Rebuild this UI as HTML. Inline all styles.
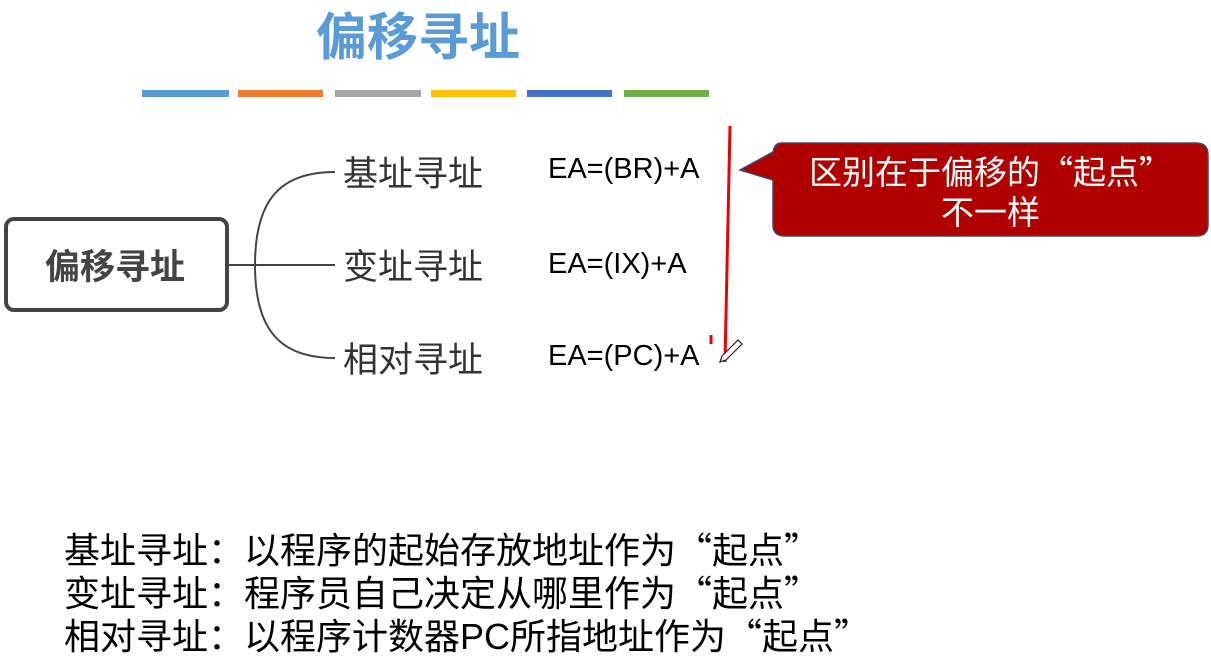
<!DOCTYPE html>
<html><head><meta charset="utf-8"><style>
body{margin:0;width:1211px;height:663px;background:#fff;position:relative;overflow:hidden;font-family:"Noto Sans CJK SC",sans-serif}
.a{position:absolute;white-space:nowrap}
.bar{position:absolute;top:90px;height:7px}
.br{font-size:35px;color:#333;left:343px;line-height:44px}
.f{font-size:29px;color:#000;left:548px;font-family:"Liberation Sans",sans-serif}
.bt{font-size:36px;color:#000;left:64px;line-height:43px}
</style></head><body>
<div class="a" style="left:316px;top:0px;font-size:51px;color:#5b9bd5;font-weight:bold;line-height:66px">偏移寻址</div>
<div class="bar" style="left:142px;width:87px;background:#5b9bd5"></div>
<div class="bar" style="left:238px;width:85px;background:#ed7d31"></div>
<div class="bar" style="left:335px;width:86px;background:#a5a5a5"></div>
<div class="bar" style="left:431px;width:85px;background:#ffc000"></div>
<div class="bar" style="left:527px;width:85px;background:#4472c4"></div>
<div class="bar" style="left:624px;width:85px;background:#70ad47"></div>
<svg class="a" style="left:0;top:0" width="1211" height="663">
<path d="M228 265 H335 M255 265 C255 200 280 172 335 172 M255 265 C255 330 280 358 335 358" stroke="#444" stroke-width="2" fill="none"/>
<rect x="6" y="219" width="221" height="91" rx="8" fill="#fff" stroke="#444" stroke-width="4"/>
<path d="M730 126 L725 362" stroke="#e00" stroke-width="3" fill="none"/>
<path d="M711 335 L711 344" stroke="#e00" stroke-width="3"/>
<path d="M782 143 H1196 Q1208 143 1208 155 V225 Q1208 236 1196 236 H785 Q773 236 773 225 V180 L740 170 L773 152 V155 Q773 143 782 143Z" fill="#b00000" stroke="#3a4a6a" stroke-width="1.5"/>
<path d="M722 356 L738 340 L742 344 L726 360 L720 362Z" fill="#fff" stroke="#222" stroke-width="1.2"/>
</svg>
<div class="a" style="left:45px;top:243px;font-size:35px;font-weight:bold;color:#444;line-height:44px">偏移寻址</div>
<div class="a br" style="top:150px">基址寻址</div>
<div class="a br" style="top:243px">变址寻址</div>
<div class="a br" style="top:336px">相对寻址</div>
<div class="a f" style="top:153px">EA=(BR)+A</div>
<div class="a f" style="top:248px">EA=(IX)+A</div>
<div class="a f" style="top:340px">EA=(PC)+A</div>
<div class="a" style="left:773px;width:435px;top:150px;text-align:center;color:#fff;font-size:33px;line-height:40px">区别在于偏移的“起点”<br>不一样</div>
<div class="a bt" style="top:527px">基址寻址：以程序的起始存放地址作为“起点”</div>
<div class="a bt" style="top:570px">变址寻址：程序员自己决定从哪里作为“起点”</div>
<div class="a bt" style="top:613px">相对寻址：以程序计数器<span style="font-family:'Liberation Sans',sans-serif">PC</span>所指地址作为“起点”</div>
</body></html>
